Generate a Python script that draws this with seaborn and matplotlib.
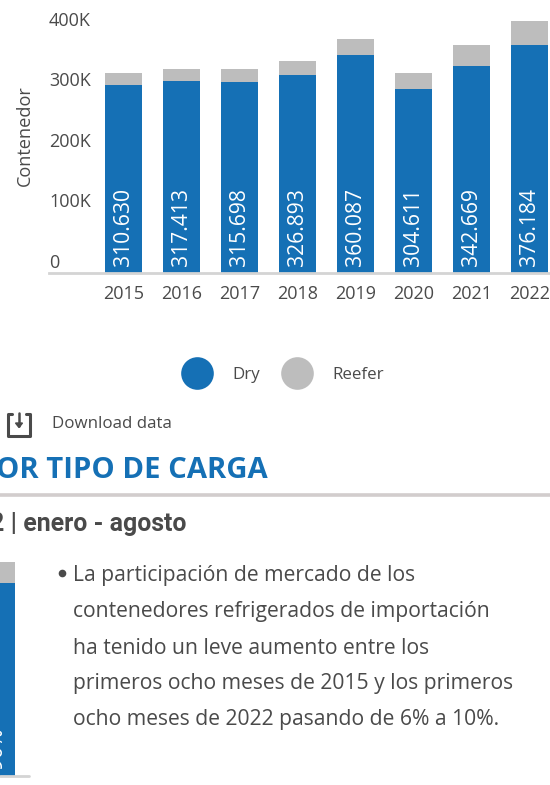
import matplotlib
matplotlib.use('Agg')
import pandas as pd
import seaborn as sns
import matplotlib.pyplot as plt
from matplotlib.lines import Line2D
from matplotlib.transforms import ScaledTranslation

years = ['2015', '2016', '2017', '2018', '2019', '2020', '2021', '2022']
dry = [310630, 317413, 315698, 326893, 360087, 304611, 342669, 376184]
reefer = [20000, 20000, 22000, 23000, 26500, 26500, 34000, 40000]
y_ticks = [0, 100000, 200000, 300000, 400000]
y_tick_labels = ['0', '100K', '200K', '300K', '400K']
share_dry = [90]
share_reefer = [10]
bullet_lines = ['La participación de mercado de los',
                'contenedores refrigerados de importación',
                'ha tenido un leve aumento entre los',
                'primeros ocho meses de 2015 y los primeros',
                'ocho meses de 2022 pasando de 6% a 10%.']

BLUE = '#1570b5'
GREY = '#bdbdbd'
TEXT = '#4a4a4a'
W, H = 550, 785

sns.set_style('white')
plt.rcParams['font.family'] = ['Open Sans', 'DejaVu Sans']

df = pd.DataFrame({'year': years, 'dry': dry, 'reefer': reefer})
df['total'] = df['dry'] + df['reefer']

fig = plt.figure(figsize=(W / 100, H / 100), dpi=100)


def px_axes(left, top, right, bottom):
    return fig.add_axes([left / W, 1 - bottom / H, (right - left) / W, (bottom - top) / H])


# main chart
ax = px_axes(49, 0, 550, 273)
sns.barplot(data=df, x='year', y='total', color=GREY, width=0.64, saturation=1, linewidth=0, ax=ax)
sns.barplot(data=df, x='year', y='dry', color=BLUE, width=0.64, saturation=1, linewidth=0, ax=ax)
ax.set_xlim(-1.284, 7.353)
ax.set_ylim(0, 451000)
ax.set_xlabel('')
ax.set_ylabel('')
ax.set_yticks(y_ticks)
ax.set_yticklabels(y_tick_labels)
ax.tick_params(axis='x', length=0, pad=9, labelsize=13, labelcolor=TEXT)
ax.tick_params(axis='y', length=0, pad=0, labelsize=13, labelcolor=TEXT)
for lab in ax.get_yticklabels():
    lab.set_ha('left')
    # labels sit above their value, 12 px up
    lab.set_transform(lab.get_transform() + ScaledTranslation(0, 12 / 100, fig.dpi_scale_trans))
sns.despine(ax=ax, left=True, top=True, right=True)
ax.spines['bottom'].set_color('#d4d4d4')
ax.spines['bottom'].set_linewidth(2)
for i, v in enumerate(dry):
    label = f'{v:,}'.replace(',', '.')
    ax.annotate(label, (i, 0), xytext=(0, 5), textcoords='offset points', rotation=90,
                ha='center', va='bottom', color='white', fontsize=15.2)

# second chart, cut by the left edge of the crop
ax2 = px_axes(0, 540, 29, 775.5)
share = pd.DataFrame({'period': ['2022'], 'dry': share_dry, 'reefer': share_reefer})
share['total'] = share['dry'] + share['reefer']
sns.barplot(data=share, x='period', y='total', color=GREY, width=1, saturation=1, linewidth=0, ax=ax2)
sns.barplot(data=share, x='period', y='dry', color=BLUE, width=1, saturation=1, linewidth=0, ax=ax2)
ax2.set_xlim(-0.5 + 22 / 37, 0.5 + 14 / 37)
ax2.set_ylim(0, 110.3)
ax2.axis('off')
ax2.axhline(0, color='#d4d4d4', lw=2, clip_on=False)
ax2.annotate(f'{share_dry[0]}%', (0, 0), xytext=(0, 5), textcoords='offset points', rotation=90,
             ha='center', va='bottom', color='white', fontsize=15.2, annotation_clip=False)

# legend
handles = [Line2D([], [], ls='', marker='o', ms=23.5, color=BLUE, mew=0),
           Line2D([], [], ls='', marker='o', ms=23.5, color=GREY, mew=0)]
leg = fig.legend(handles, ['Dry', 'Reefer'], ncols=2, frameon=False, loc='center',
                 bbox_to_anchor=(283.5 / W, 1 - 375 / H), fontsize=12.2, labelcolor=TEXT,
                 handletextpad=1.3, columnspacing=1.36, handlelength=1.6)

# page elements around the chart, laid out in pixels
page = fig.add_axes([0, 0, 1, 1], zorder=5)
page.set_xlim(0, W)
page.set_ylim(H, 0)
page.axis('off')
page.patch.set_alpha(0)

# download icon
page.plot([12, 8, 8, 30, 30, 26], [414, 414, 436, 436, 414, 414], color=TEXT, lw=2.2,
          solid_joinstyle='round', solid_capstyle='round')
page.plot([19, 19], [413, 426], color=TEXT, lw=1.8)
page.fill([15.5, 19, 22.5], [423, 427.5, 423], color=TEXT)
page.text(52, 424, 'Download data', color=TEXT, fontsize=12.2, va='center', ha='left')

page.text(268, 471, 'OR TIPO DE CARGA', color=BLUE, fontsize=21.1, fontweight='bold', va='center', ha='right')
page.plot([0, W], [494.5, 494.5], color='#d2cdcd', lw=2.6, solid_capstyle='butt')
page.text(186, 524, '2 | enero - agosto', color=TEXT, fontsize=17.9, fontweight='bold', family='Roboto',
          va='center', ha='right')

page.plot([62], [573], marker='o', ms=5.5, color=TEXT, mew=0)
for i, line in enumerate(bullet_lines):
    page.text(73, 576 + 36 * i, line, color=TEXT, fontsize=15.2, va='center', ha='left')

fig.text(25 / W, 1 - 136 / H, 'Contenedor', rotation=90, color=TEXT, fontsize=13.1, ha='center', va='center')

fig.savefig('out.png', dpi=100)
